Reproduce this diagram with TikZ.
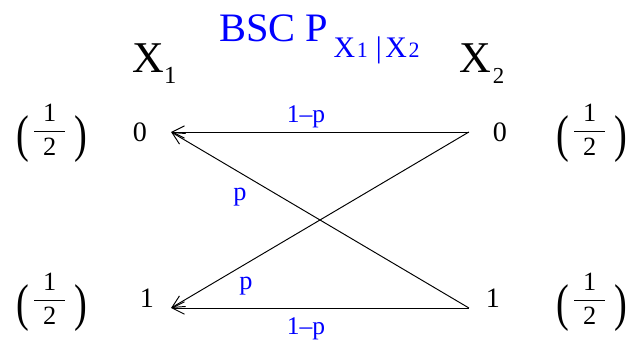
\documentclass[tikz,border=0pt]{standalone}
\usepackage{amsmath}
\usepackage{graphicx}
\usepackage{fontspec}
\setmainfont{Liberation Serif}
\usetikzlibrary{arrows.meta}

\newcommand{\paren}[1]{\raisebox{-4pt}{\scalebox{1.15}[1.55]{\fontsize{19}{19}\selectfont #1}}}
\newcommand{\prior}{\paren{(}\hspace{1.5pt}\raisebox{3.5pt}{$\dfrac{\hspace{5pt}\text{1}\hspace{5pt}}{\text{2}}$}\hspace{4pt}\paren{)}}

\begin{document}
\begin{tikzpicture}[x=0.02cm,y=-0.02cm,>={Straight Barb[length=7pt,width=7pt]},
    bit/.style={font=\fontsize{16}{16}\selectfont,inner ysep=0pt},
    lab/.style={text=blue,font=\fontsize{14.5}{14.5}\selectfont,inner sep=0pt}]
  \useasboundingbox (0,0) rectangle (632,347);
  % channel name and the two alphabets
  \node[anchor=base west,inner sep=0pt,text=blue] (title) at (219,42)
    {\fontsize{23}{23}\selectfont BSC P\hspace{3pt}\raisebox{-9pt}{\fontsize{17}{17}\selectfont
     X\hspace{1pt}{\fontsize{12.5}{12.5}\selectfont 1}\hspace{4.5pt}|\hspace{2pt}X\hspace{1pt}{\fontsize{12.5}{12.5}\selectfont 2}}};
  \node[anchor=base west,inner sep=0pt,font=\fontsize{25}{25}\selectfont] (x1) at (132,73)
    {X\raisebox{-6pt}{\fontsize{14}{14}\selectfont 1}};
  \node[anchor=base west,inner sep=0pt,font=\fontsize{25}{25}\selectfont] (x2) at (459,73)
    {X\hspace{1pt}\raisebox{-6pt}{\fontsize{13}{13}\selectfont 2}};
  % input and output symbols
  \node[bit,inner xsep=13.5pt] (l0) at (140,132) {0};
  \node[bit,inner xsep=13.5pt] (r0) at (500,132) {0};
  \node[bit,inner xsep=9.5pt,anchor=base] (l1) at (147,308) {1};
  \node[bit,inner xsep=9.5pt,anchor=base] (r1) at (493,308) {1};
  \foreach \nm/\xx/\yy in {a0/52/133,a1/52/302,b0/592/133,b1/592/302}
    \node[font=\fontsize{15}{15}\selectfont,inner sep=0pt] (\nm) at (\xx,\yy) {\prior};
  % transitions
  \draw[->,line width=0.55pt] (r0.west) -- (l0.east);
  \draw[->,line width=0.55pt] (r0.west) -- (l1.base east);
  \draw[->,line width=0.55pt] (r1.base west) -- (l0.east);
  \draw[->,line width=0.55pt] (r1.base west) -- (l1.base east);
  \node[lab,anchor=base] (q0) at (306,123) {1–p};
  \node[lab,anchor=base] (q1) at (306,335) {1–p};
  \node[lab,font=\fontsize{15}{15}\selectfont,anchor=base] (p0) at (240,201) {p};
  \node[lab,font=\fontsize{15}{15}\selectfont,anchor=base] (p1) at (246,290) {p};
\end{tikzpicture}
\end{document}
